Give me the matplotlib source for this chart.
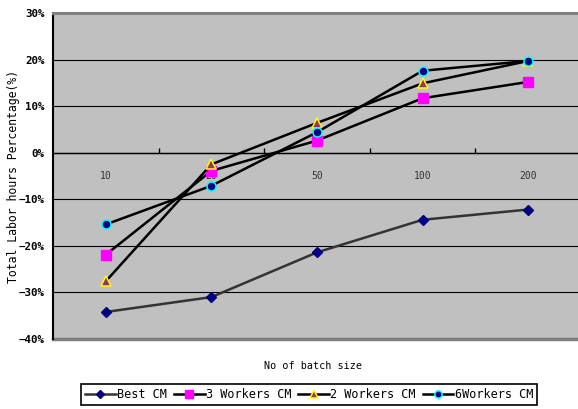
import matplotlib
matplotlib.use("Agg")
import matplotlib.pyplot as plt
from matplotlib.ticker import FixedLocator, PercentFormatter

categories = ["10", "20", "50", "100", "200"]
best_cm = [-34.2, -31.0, -21.4, -14.4, -12.2]
workers3_cm = [-21.9, -3.9, 2.6, 11.7, 15.2]
workers2_cm = [-27.6, -2.5, 6.4, 14.9, 19.7]
workers6_cm = [-15.4, -7.1, 4.4, 17.6, 19.7]
y_ticks = [-40, -30, -20, -10, 0, 10, 20, 30]

mono = "DejaVu Sans Mono"
W, H = 578, 409
fig = plt.figure(figsize=(W / 100, H / 100), dpi=100)
ax = fig.add_axes([53 / W, (H - 339) / H, (581 - 53) / W, (339 - 13) / H])
ax.set_facecolor("#C0C0C0")

x = list(range(len(categories)))
ax.plot(x, best_cm, color="#333333", lw=1.8, marker="D", ms=5.5,
        mfc="#000080", mec="#000080", label="Best CM", zorder=3)
ax.plot(x, workers3_cm, color="black", lw=1.8, marker="s", ms=7,
        mfc="#FF00FF", mec="#FF00FF", label="3 Workers CM", zorder=3)
ax.plot(x, workers2_cm, color="black", lw=1.8, marker="^", ms=7.5,
        mfc="#993366", mec="#FFFF00", mew=1.1, label="2 Workers CM", zorder=3)
ax.plot(x, workers6_cm, color="black", lw=1.8, marker="o", ms=6.5,
        mfc="#000080", mec="#00FFFF", mew=1.1, label="6Workers CM", zorder=3)

ax.set_xlim(-0.5, len(categories) - 0.5)
ax.set_ylim(-40, 30)
ax.yaxis.set_major_locator(FixedLocator(y_ticks))
ax.yaxis.set_major_formatter(PercentFormatter(decimals=0))
ax.yaxis.grid(True, color="black", lw=0.8)
ax.tick_params(axis="y", length=0, pad=6, labelsize=7.8, labelcolor="black")
for lab in ax.get_yticklabels():
    lab.set_family(mono)
    lab.set_fontweight("bold")

ax.spines["bottom"].set_position(("data", 0))
ax.spines["bottom"].set_color("black")
ax.spines["bottom"].set_linewidth(1.0)
ax.spines["top"].set_color("#808080")
ax.spines["top"].set_linewidth(2.2)
ax.spines["right"].set_visible(False)
ax.spines["left"].set_color("black")
ax.spines["left"].set_linewidth(1.5)
ax.axhline(-40, color="#808080", lw=2.5, zorder=1, clip_on=False)

ax.set_xticks(x)
ax.set_xticklabels(categories, family=mono, fontsize=7, color="#333333")
ax.set_xticks([i + 0.5 for i in x], minor=True)
ax.tick_params(axis="x", which="major", length=0, pad=13)
ax.tick_params(axis="x", which="minor", direction="in", length=3.5, width=1, color="black")

fig.text(14 / W, 1 - 176 / H, "Total Labor hours Percentage(%)", rotation=90,
         ha="center", va="center", family=mono, fontsize=8.3)
fig.text(313 / W, 1 - 366 / H, "No of batch size", ha="center", va="center",
         family=mono, fontsize=7.3)

leg = fig.legend(loc="center", bbox_to_anchor=(309 / W, 1 - 394.5 / H), ncol=4,
                 frameon=True, fancybox=False, edgecolor="black", framealpha=1,
                 prop={"family": mono, "size": 8.5}, handlelength=2.6,
                 handletextpad=0.1, columnspacing=0.6, borderpad=0.3,
                 borderaxespad=0, markerscale=0.8)
leg.get_frame().set_linewidth(1.2)

fig.savefig("out.png", dpi=100)
